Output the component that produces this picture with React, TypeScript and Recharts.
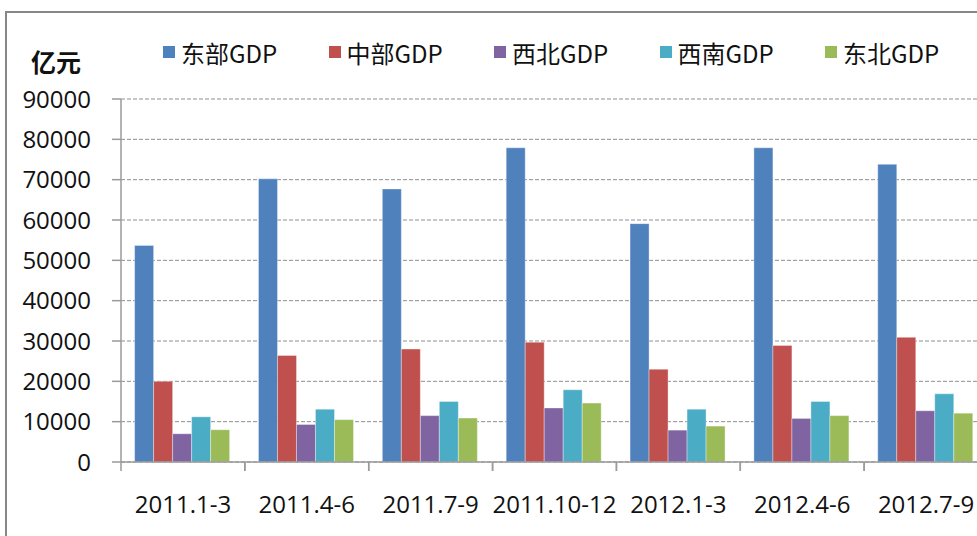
import React from 'react'
import { BarChart, Bar, XAxis, YAxis, CartesianGrid, Legend } from 'recharts'

const quarters = ['2011.1-3', '2011.4-6', '2011.7-9', '2011.10-12', '2012.1-3', '2012.4-6', '2012.7-9']
const east = [53700, 70200, 67700, 77900, 59100, 77900, 73800]
const central = [20000, 26400, 28000, 29700, 23000, 28900, 30900]
const northwest = [7000, 9300, 11500, 13400, 7900, 10800, 12700]
const southwest = [11200, 13100, 15000, 17900, 13100, 15000, 16900]
const northeast = [8000, 10500, 10900, 14600, 8900, 11500, 12100]
const yTicks = [0, 10000, 20000, 30000, 40000, 50000, 60000, 70000, 80000, 90000]

const series = [
	{ key: 'east', name: '东部GDP', color: '#4F81BD' },
	{ key: 'central', name: '中部GDP', color: '#C0504D' },
	{ key: 'northwest', name: '西北GDP', color: '#8064A2' },
	{ key: 'southwest', name: '西南GDP', color: '#4BACC6' },
	{ key: 'northeast', name: '东北GDP', color: '#9BBB59' },
]

const data = quarters.map((q, i) => ({
	name: q,
	east: east[i],
	central: central[i],
	northwest: northwest[i],
	southwest: southwest[i],
	northeast: northeast[i],
}))

const AXIS_W = 121
const PLOT_W = 867
const BAND = PLOT_W / quarters.length
const FONT = '"Open Sans", "Noto Sans", sans-serif'
const CJK = '"Noto Sans CJK SC", sans-serif'

// 类目刻度线画在类目边界上，标签居中
const QuarterTick = (props: any) => {
	const { x, y, payload } = props
	return (
		<g>
			<line x1={x - BAND / 2} x2={x - BAND / 2} y1={y} y2={y + 9} stroke="#9a9a9a" strokeWidth={1.5} />
			<line x1={x + BAND / 2} x2={x + BAND / 2} y1={y} y2={y + 9} stroke="#9a9a9a" strokeWidth={1.5} />
			<text x={x} y={y + 51} textAnchor="middle" fontSize={24} fontFamily={FONT} fill="#111">
				{payload.value}
			</text>
		</g>
	)
}

const LegendRow = () => (
	<div style={{ position: 'relative', height: 30 }}>
		{series.map((s, i) => (
			<div
				key={s.key}
				style={{
					position: 'absolute',
					left: 163 + i * 165.5,
					top: 0,
					display: 'flex',
					alignItems: 'center',
					height: 30,
					whiteSpace: 'nowrap',
				}}
			>
				<span style={{ width: 12, height: 12, background: s.color, marginRight: 6, display: 'inline-block' }} />
				<span style={{ fontFamily: CJK, fontSize: 24, color: '#111' }}>{s.name}</span>
			</div>
		))}
	</div>
)

export default function App() {
	return (
		<div style={{ position: 'absolute', left: 0, top: 0, width: 977, height: 536, overflow: 'hidden', background: '#fff' }}>
			{/* 外框 */}
			<div style={{ position: 'absolute', left: 5, top: 11, width: 1100, height: 700, border: '2px solid #878787' }} />
			<div style={{ position: 'absolute', left: 31, top: 43, fontFamily: CJK, fontSize: 25, fontWeight: 700, color: '#111' }}>亿元</div>
			<div style={{ position: 'absolute', left: 0, top: 0 }}>
				<BarChart
					width={AXIS_W + PLOT_W}
					height={536}
					data={data}
					margin={{ top: 99, right: 0, left: 0, bottom: 0 }}
					barCategoryGap="11%"
					barGap={0}
				>
					<CartesianGrid vertical={false} stroke="#8f8f8f" strokeDasharray="4 2" />
					<XAxis
						dataKey="name"
						height={74}
						interval={0}
						tickSize={0}
						tickMargin={0}
						tickLine={false}
						axisLine={{ stroke: '#9a9a9a', strokeWidth: 1.5 }}
						tick={<QuarterTick />}
					/>
					<YAxis
						width={AXIS_W}
						domain={[0, 90000]}
						ticks={yTicks}
						interval={0}
						tickSize={9}
						tickMargin={21}
						axisLine={{ stroke: '#9a9a9a', strokeWidth: 1.5 }}
						tickLine={{ stroke: '#9a9a9a', strokeWidth: 1.5 }}
						tick={{ fontSize: 24, fontFamily: FONT, fill: '#111' }}
					/>
					<Legend
						layout="horizontal"
						verticalAlign="middle"
						align="center"
						wrapperStyle={{ position: 'absolute', top: 37, left: 0, width: 977 }}
						content={() => <LegendRow />}
					/>
					{series.map((s) => (
						<Bar key={s.key} dataKey={s.key} name={s.name} fill={s.color} stroke="#ffffff" strokeOpacity={0.35} strokeWidth={1} isAnimationActive={false} />
					))}
				</BarChart>
			</div>
		</div>
	)
}
